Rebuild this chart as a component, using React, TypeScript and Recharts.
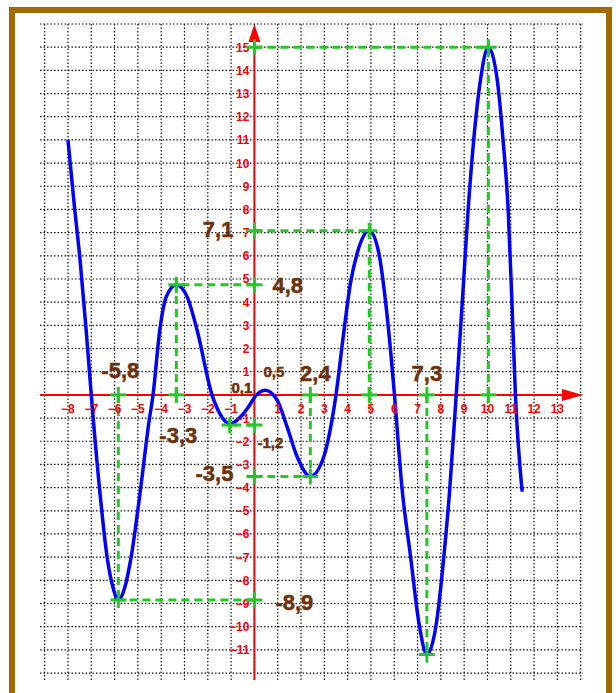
import React from "react";
import { ComposedChart, Line, Scatter, XAxis, YAxis, CartesianGrid } from "recharts";

// points of the blue curve
const curve = [
  { x: -8, y: 11 },
  { x: -7.75, y: 8.4 },
  { x: -7.47, y: 5.7 },
  { x: -7.22, y: 2.8 },
  { x: -7.0, y: 0 },
  { x: -6.64, y: -4.1 },
  { x: -6.32, y: -7.0 },
  { x: -6.07, y: -8.3 },
  { x: -5.84, y: -8.85 },
  { x: -5.56, y: -8.3 },
  { x: -5.29, y: -7.0 },
  { x: -4.89, y: -4.1 },
  { x: -4.53, y: -1.2 },
  { x: -4.35, y: 0 },
  { x: -4.06, y: 2.8 },
  { x: -3.78, y: 4.24 },
  { x: -3.35, y: 4.75 },
  { x: -2.89, y: 4.24 },
  { x: -2.46, y: 2.8 },
  { x: -1.82, y: 0 },
  { x: -1.46, y: -0.85 },
  { x: -1.06, y: -1.25 },
  { x: -0.6, y: -0.95 },
  { x: -0.31, y: -0.6 },
  { x: 0.09, y: 0 },
  { x: 0.47, y: 0.2 },
  { x: 0.97, y: -0.22 },
  { x: 1.4, y: -1.37 },
  { x: 1.83, y: -2.66 },
  { x: 2.4, y: -3.52 },
  { x: 2.98, y: -2.66 },
  { x: 3.33, y: -1.08 },
  { x: 3.5, y: 0 },
  { x: 3.83, y: 2.66 },
  { x: 4.12, y: 4.81 },
  { x: 4.41, y: 6.11 },
  { x: 4.93, y: 7.08 },
  { x: 5.34, y: 6.11 },
  { x: 5.62, y: 4.09 },
  { x: 5.84, y: 1.94 },
  { x: 6.01, y: 0 },
  { x: 6.34, y: -4.09 },
  { x: 6.7, y: -6.97 },
  { x: 7.06, y: -9.84 },
  { x: 7.4, y: -11.2 },
  { x: 7.81, y: -9.84 },
  { x: 8.13, y: -6.97 },
  { x: 8.38, y: -4.09 },
  { x: 8.66, y: 0 },
  { x: 8.92, y: 4.0 },
  { x: 9.17, y: 7.97 },
  { x: 9.41, y: 10.99 },
  { x: 9.7, y: 13.58 },
  { x: 10.04, y: 15 },
  { x: 10.42, y: 13.58 },
  { x: 10.67, y: 10.99 },
  { x: 10.89, y: 7.97 },
  { x: 11.05, y: 4.0 },
  { x: 11.2, y: 0 },
  { x: 11.49, y: -4.17 },
];

// extrema with their green dashed guides (h = to the y axis, v = to the x axis)
const extrema = [
  { x: -5.84, y: -8.85, h: true, v: true },
  { x: -3.35, y: 4.75, h: true, v: true },
  { x: -1.06, y: -1.3, h: true, v: false },
  { x: 2.4, y: -3.52, h: true, v: true },
  { x: 4.93, y: 7.08, h: true, v: true },
  { x: 7.4, y: -11.2, h: false, v: true },
  { x: 10.04, y: 15, h: true, v: true },
];

const gridX = [-9, -8, -7, -6, -5, -4, -3, -2, -1, 0, 1, 2, 3, 4, 5, 6, 7, 8, 9, 10, 11, 12, 13, 14];
const gridY = [-12, -11, -10, -9, -8, -7, -6, -5, -4, -3, -2, -1, 0, 1, 2, 3, 4, 5, 6, 7, 8, 9, 10, 11, 12, 13, 14, 15, 16];
const xTicks = [-8, -7, -6, -5, -4, -3, -2, -1, 1, 2, 3, 4, 5, 6, 7, 8, 9, 10, 11, 12, 13];
const yTicks = [15, 14, 13, 12, 11, 10, 9, 8, 7, 6, 5, 4, 3, 2, 1, -1, -2, -3, -4, -5, -6, -7, -8, -9, -10, -11];

// written values and the point they sit next to
const valueLabels = [
  { text: "7,1", x: 0, y: 7.08 },
  { text: "4,8", x: 0, y: 4.75 },
  { text: "-5,8", x: -5.84, y: 0 },
  { text: "-3,3", x: -3.35, y: 0 },
  { text: "-3,5", x: 0, y: -3.52 },
  { text: "-8,9", x: 0, y: -8.85 },
  { text: "2,4", x: 2.4, y: 0 },
  { text: "7,3", x: 7.4, y: 0 },
  { text: "0,5", x: 0, y: 0 },
  { text: "0,1", x: 0, y: 0 },
  { text: "-1,2", x: 0, y: 0 },
];

const placement: Record<string, { dx: number; dy: number; anchor: string; size: number }> = {
  "7,1": { dx: -21, dy: 6, anchor: "end", size: 22 },
  "4,8": { dx: 18, dy: 8, anchor: "start", size: 22 },
  "-5,8": { dx: 2, dy: -17, anchor: "middle", size: 22 },
  "-3,3": { dx: 2, dy: 48, anchor: "middle", size: 22 },
  "-3,5": { dx: -21, dy: 5, anchor: "end", size: 22 },
  "-8,9": { dx: 21, dy: 10, anchor: "start", size: 22 },
  "2,4": { dx: 5, dy: -14, anchor: "middle", size: 22 },
  "7,3": { dx: 0, dy: -14, anchor: "middle", size: 22 },
  "0,5": { dx: 9, dy: -18, anchor: "start", size: 15 },
  "0,1": { dx: -2, dy: -2, anchor: "end", size: 15 },
  "-1,2": { dx: 3, dy: 53, anchor: "start", size: 15 },
};

const FONT = "'Liberation Sans', Arial, sans-serif";
const RED = "#ff0000";
const GREEN = "#22c922";
const BROWN = "#6b300c";

const minus = (v: number) => (v < 0 ? "\u2212" + Math.abs(v) : String(v));

const XTickShape = (props: any) => (
  <text x={props.cx} y={props.cy + 18} textAnchor="middle" fontSize={12} fontWeight="bold" fill={RED} fontFamily={FONT}>
    {minus(props.payload.x)}
  </text>
);

const YTickShape = (props: any) => (
  <text x={props.cx - 5} y={props.cy + 4.5} textAnchor="end" fontSize={12} fontWeight="bold" fill={RED} fontFamily={FONT}>
    {minus(props.payload.y)}
  </text>
);

const PlusShape = (props: any) => (
  <g stroke={GREEN} strokeWidth={3}>
    <line x1={props.cx - 8} y1={props.cy} x2={props.cx + 8} y2={props.cy} />
    <line x1={props.cx} y1={props.cy - 8} x2={props.cx} y2={props.cy + 8} />
  </g>
);

const ArrowRight = (props: any) => (
  <polygon points={`${props.cx},${props.cy} ${props.cx - 21},${props.cy - 6} ${props.cx - 21},${props.cy + 6}`} fill={RED} />
);

const ArrowUp = (props: any) => (
  <polygon points={`${props.cx},${props.cy} ${props.cx - 6},${props.cy + 18} ${props.cx + 6},${props.cy + 18}`} fill={RED} />
);

const ValueLabel = (props: any) => {
  const p = placement[props.payload.text];
  return (
    <text
      x={props.cx + p.dx}
      y={props.cy + p.dy}
      textAnchor={p.anchor}
      fontSize={p.size}
      fontWeight="bold"
      fill={BROWN}
      stroke={BROWN}
      strokeWidth={0.5}
      fontFamily={FONT}
    >
      {props.payload.text}
    </text>
  );
};

const App = () => {
  const markers: { x: number; y: number }[] = [];
  extrema.forEach((e) => {
    markers.push({ x: e.x, y: e.y });
    if (e.h) markers.push({ x: 0, y: e.y });
    if (e.v) markers.push({ x: e.x, y: 0 });
  });

  return (
    <div style={{ position: "absolute", left: 0, top: 0, width: 616, height: 693, overflow: "hidden", background: "#fff" }}>
      <div
        style={{
          position: "absolute",
          left: 9,
          top: 7,
          width: 603,
          height: 720,
          border: "6px solid #a36a00",
          boxSizing: "border-box",
        }}
      />
      <div style={{ position: "absolute", left: 0, top: 0 }}>
        <ComposedChart width={616} height={693} margin={{ top: 24, right: 33, bottom: 13, left: 40 }}>
          <CartesianGrid
            verticalValues={gridX}
            horizontalValues={gridY}
            stroke="#111"
            strokeWidth={1.2}
            strokeDasharray="1.5 2"
          />
          <XAxis type="number" dataKey="x" domain={[-9.2, 14.1]} allowDataOverflow hide />
          <YAxis type="number" dataKey="y" domain={[-12.3, 16]} allowDataOverflow hide />

          {/* red axes */}
          <Line
            data={[{ x: -9.2, y: 0 }, { x: 13.3, y: 0 }]}
            dataKey="y"
            type="linear"
            stroke={RED}
            strokeWidth={2}
            dot={false}
            activeDot={false}
            isAnimationActive={false}
          />
          <Line
            data={[{ x: 0, y: -12.3 }, { x: 0, y: 15.3 }]}
            dataKey="y"
            type="linear"
            stroke={RED}
            strokeWidth={2}
            dot={false}
            activeDot={false}
            isAnimationActive={false}
          />
          <Scatter data={[{ x: 14.1, y: 0 }]} dataKey="y" shape={ArrowRight} isAnimationActive={false} />
          <Scatter data={[{ x: 0, y: 16 }]} dataKey="y" shape={ArrowUp} isAnimationActive={false} />

          <Scatter data={xTicks.map((x) => ({ x, y: 0 }))} dataKey="y" shape={XTickShape} isAnimationActive={false} />
          <Scatter data={yTicks.map((y) => ({ x: 0, y }))} dataKey="y" shape={YTickShape} isAnimationActive={false} />

          {/* green dashed guides */}
          {extrema.map((e, i) =>
            e.h ? (
              <Line
                key={`h${i}`}
                data={[{ x: 0, y: e.y }, { x: e.x, y: e.y }]}
                dataKey="y"
                type="linear"
                stroke={GREEN}
                strokeWidth={3}
                strokeDasharray="8 5"
                dot={false}
                activeDot={false}
                isAnimationActive={false}
              />
            ) : null
          )}
          {extrema.map((e, i) =>
            e.v ? (
              <Line
                key={`v${i}`}
                data={[{ x: e.x, y: 0 }, { x: e.x, y: e.y }]}
                dataKey="y"
                type="linear"
                stroke={GREEN}
                strokeWidth={3}
                strokeDasharray="8 5"
                dot={false}
                activeDot={false}
                isAnimationActive={false}
              />
            ) : null
          )}

          <Line
            data={curve}
            dataKey="y"
            type="monotone"
            stroke="#0000ff"
            strokeWidth={3.5}
            dot={false}
            activeDot={false}
            isAnimationActive={false}
          />

          <Scatter data={markers} dataKey="y" shape={PlusShape} isAnimationActive={false} />
          <Scatter data={valueLabels} dataKey="y" shape={ValueLabel} isAnimationActive={false} />
        </ComposedChart>
      </div>
    </div>
  );
};

export default App;
